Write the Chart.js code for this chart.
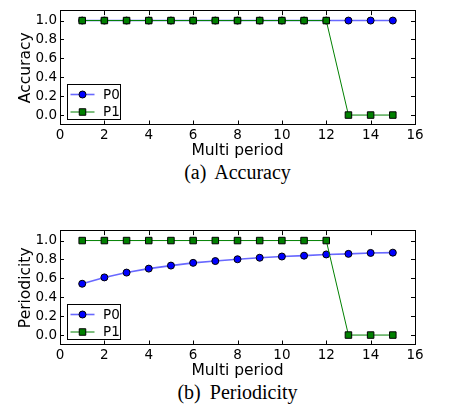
<!DOCTYPE html>
<html>
<head>
<meta charset="utf-8">
<script src="https://cdn.jsdelivr.net/npm/chart.js@4.4.1/dist/chart.umd.min.js"></script>
<style>
  body { margin: 0; background: #fff; }
  #page { position: relative; width: 450px; height: 411px; overflow: hidden; }
  canvas { position: absolute; left: 0; }
  .caption {
    position: absolute; left: 0; width: 475px; text-align: center;
    font-family: "Liberation Serif", "DejaVu Serif", serif; font-size: 20px;
    line-height: 24px; height: 24px; color: #000; word-spacing: 4px;
  }
</style>
</head>
<body>
<div id="page">
  <canvas id="accuracyChart" width="450" height="160" style="top:0px"></canvas>
  <div class="caption" style="top:160px">(a) Accuracy</div>
  <canvas id="periodicityChart" width="450" height="160" style="top:220px"></canvas>
  <div class="caption" style="top:380px">(b) Periodicity</div>
</div>
<script>
// Data
const multiPeriod = [1, 2, 3, 4, 5, 6, 7, 8, 9, 10, 11, 12, 13, 14, 15];
const xTicks = [0, 2, 4, 6, 8, 10, 12, 14, 16];
const yTicks = [0.0, 0.2, 0.4, 0.6, 0.8, 1.0];

const accuracyP0 = [1, 1, 1, 1, 1, 1, 1, 1, 1, 1, 1, 1, 1, 1, 1];
const accuracyP1 = [1, 1, 1, 1, 1, 1, 1, 1, 1, 1, 1, 1, 0, 0, 0];

const periodicityP0 = [0.543, 0.61, 0.661, 0.703, 0.735, 0.764, 0.783, 0.802, 0.818, 0.831, 0.84, 0.853, 0.859, 0.869, 0.872];
const periodicityP1 = [1, 1, 1, 1, 1, 1, 1, 1, 1, 1, 1, 1, 0, 0, 0];

const FONT = '"DejaVu Sans", Verdana, sans-serif';
const P0_LINE = 'rgba(40, 40, 255, 0.7)';
const P0_FILL = '#0000ff';
const P1_COLOR = '#008000';

/**
 * Draw a marker like matplotlib's 'o' / 's'
 */
function drawMarker(ctx, style, x, y, fill) {
    ctx.save();
    ctx.beginPath();
    if (style === 'circle') {
        ctx.arc(x, y, 3.5, 0, Math.PI * 2);
    } else {
        ctx.rect(x - 3.25, y - 3.25, 6.5, 6.5);
    }
    ctx.fillStyle = fill;
    ctx.fill();
    ctx.lineWidth = 1;
    ctx.strokeStyle = '#000';
    ctx.stroke();
    ctx.restore();
}

// Box, inward ticks on all four sides, and the legend in the lower left
const axesFrame = {
    id: 'axesFrame',
    afterDraw(chart) {
        const { ctx, chartArea: a, scales } = chart;
        ctx.save();
        ctx.strokeStyle = '#000';
        ctx.lineWidth = 1;
        ctx.beginPath();
        xTicks.forEach(v => {
            const px = Math.round(scales.x.getPixelForValue(v)) + 0.5;
            ctx.moveTo(px, a.bottom); ctx.lineTo(px, a.bottom - 4);
            ctx.moveTo(px, a.top); ctx.lineTo(px, a.top + 4);
        });
        yTicks.forEach(v => {
            const py = Math.round(scales.y.getPixelForValue(v)) + 0.5;
            ctx.moveTo(a.left, py); ctx.lineTo(a.left + 4, py);
            ctx.moveTo(a.right, py); ctx.lineTo(a.right - 4, py);
        });
        ctx.stroke();
        // top edge sits half a pixel above the plot area, as in the figure
        ctx.strokeRect(Math.round(a.left) + 0.5, Math.round(a.top) - 0.5,
            Math.round(a.right - a.left), Math.round(a.bottom - a.top) + 1);

        // legend
        const bx = Math.round(a.left) + 7.5;
        const by = Math.round(a.bottom) - 40.5;
        ctx.fillStyle = '#fff';
        ctx.fillRect(bx, by, 53, 35);
        ctx.strokeRect(bx, by, 53, 35);
        ctx.font = '13.5px ' + FONT;
        ctx.textBaseline = 'middle';
        ctx.textAlign = 'left';
        chart.data.datasets.forEach((ds, i) => {
            const ry = by + 10 + i * 17.5;
            ctx.beginPath();
            ctx.strokeStyle = ds.borderColor;
            ctx.lineWidth = ds.borderWidth;
            ctx.moveTo(bx + 3, ry); ctx.lineTo(bx + 27, ry);
            ctx.stroke();
            drawMarker(ctx, ds.pointStyle, bx + 15, ry, ds.pointBackgroundColor);
            ctx.fillStyle = '#000';
            ctx.fillText(ds.label, bx + 35.5, ry + 0.5);
        });
        ctx.restore();
    }
};

/**
 * Build one panel
 */
function initPanel(canvasId, yTitle, p0, p1) {
    const canvas = document.getElementById(canvasId);
    return new Chart(canvas, {
        type: 'line',
        data: {
            labels: multiPeriod,
            datasets: [
                {
                    label: 'P0',
                    data: multiPeriod.map((x, i) => ({ x: x, y: p0[i] })),
                    borderColor: P0_LINE,
                    borderWidth: 1.6,
                    pointStyle: 'circle',
                    pointRadius: 3.5,
                    pointBackgroundColor: P0_FILL,
                    pointBorderColor: '#000',
                    pointBorderWidth: 1,
                    tension: 0,
                    order: 1
                },
                {
                    label: 'P1',
                    data: multiPeriod.map((x, i) => ({ x: x, y: p1[i] })),
                    borderColor: P1_COLOR,
                    borderWidth: 1,
                    pointStyle: 'rect',
                    pointRadius: 4.6,
                    pointBackgroundColor: P1_COLOR,
                    pointBorderColor: '#000',
                    pointBorderWidth: 1,
                    tension: 0,
                    order: 0
                }
            ]
        },
        options: {
            responsive: false,
            animation: false,
            clip: false,
            layout: { padding: { top: 0, left: 0, right: 35, bottom: 0 } },
            plugins: {
                legend: { display: false },
                tooltip: { enabled: false }
            },
            scales: {
                x: {
                    type: 'linear',
                    min: 0,
                    max: 16,
                    afterBuildTicks: s => { s.ticks = xTicks.map(v => ({ value: v })); },
                    afterFit: s => { s.height = 35.5; },
                    grid: { display: false, drawTicks: false },
                    border: { display: false },
                    ticks: {
                        color: '#000',
                        padding: 3,
                        maxRotation: 0,
                        autoSkip: false,
                        font: { family: FONT, size: 13.5 },
                        callback: v => String(v)
                    },
                    title: {
                        display: true,
                        text: 'Multi period',
                        color: '#000',
                        padding: { top: 0, bottom: 0 },
                        font: { family: FONT, size: 15.5 }
                    }
                },
                y: {
                    type: 'linear',
                    min: -0.1,
                    max: 1.1,
                    afterBuildTicks: s => { s.ticks = yTicks.map(v => ({ value: v })); },
                    afterFit: s => { s.width = 60; },
                    grid: { display: false, drawTicks: false },
                    border: { display: false },
                    ticks: {
                        color: '#000',
                        padding: 3,
                        font: { family: FONT, size: 13.5 },
                        callback: v => v.toFixed(1)
                    },
                    title: {
                        display: true,
                        text: yTitle,
                        color: '#000',
                        padding: { top: 17, bottom: 0 },
                        font: { family: FONT, size: 15.5 }
                    }
                }
            }
        },
        plugins: [axesFrame]
    });
}

initPanel('accuracyChart', 'Accuracy', accuracyP0, accuracyP1);
initPanel('periodicityChart', 'Periodicity', periodicityP0, periodicityP1);
</script>
</body>
</html>
